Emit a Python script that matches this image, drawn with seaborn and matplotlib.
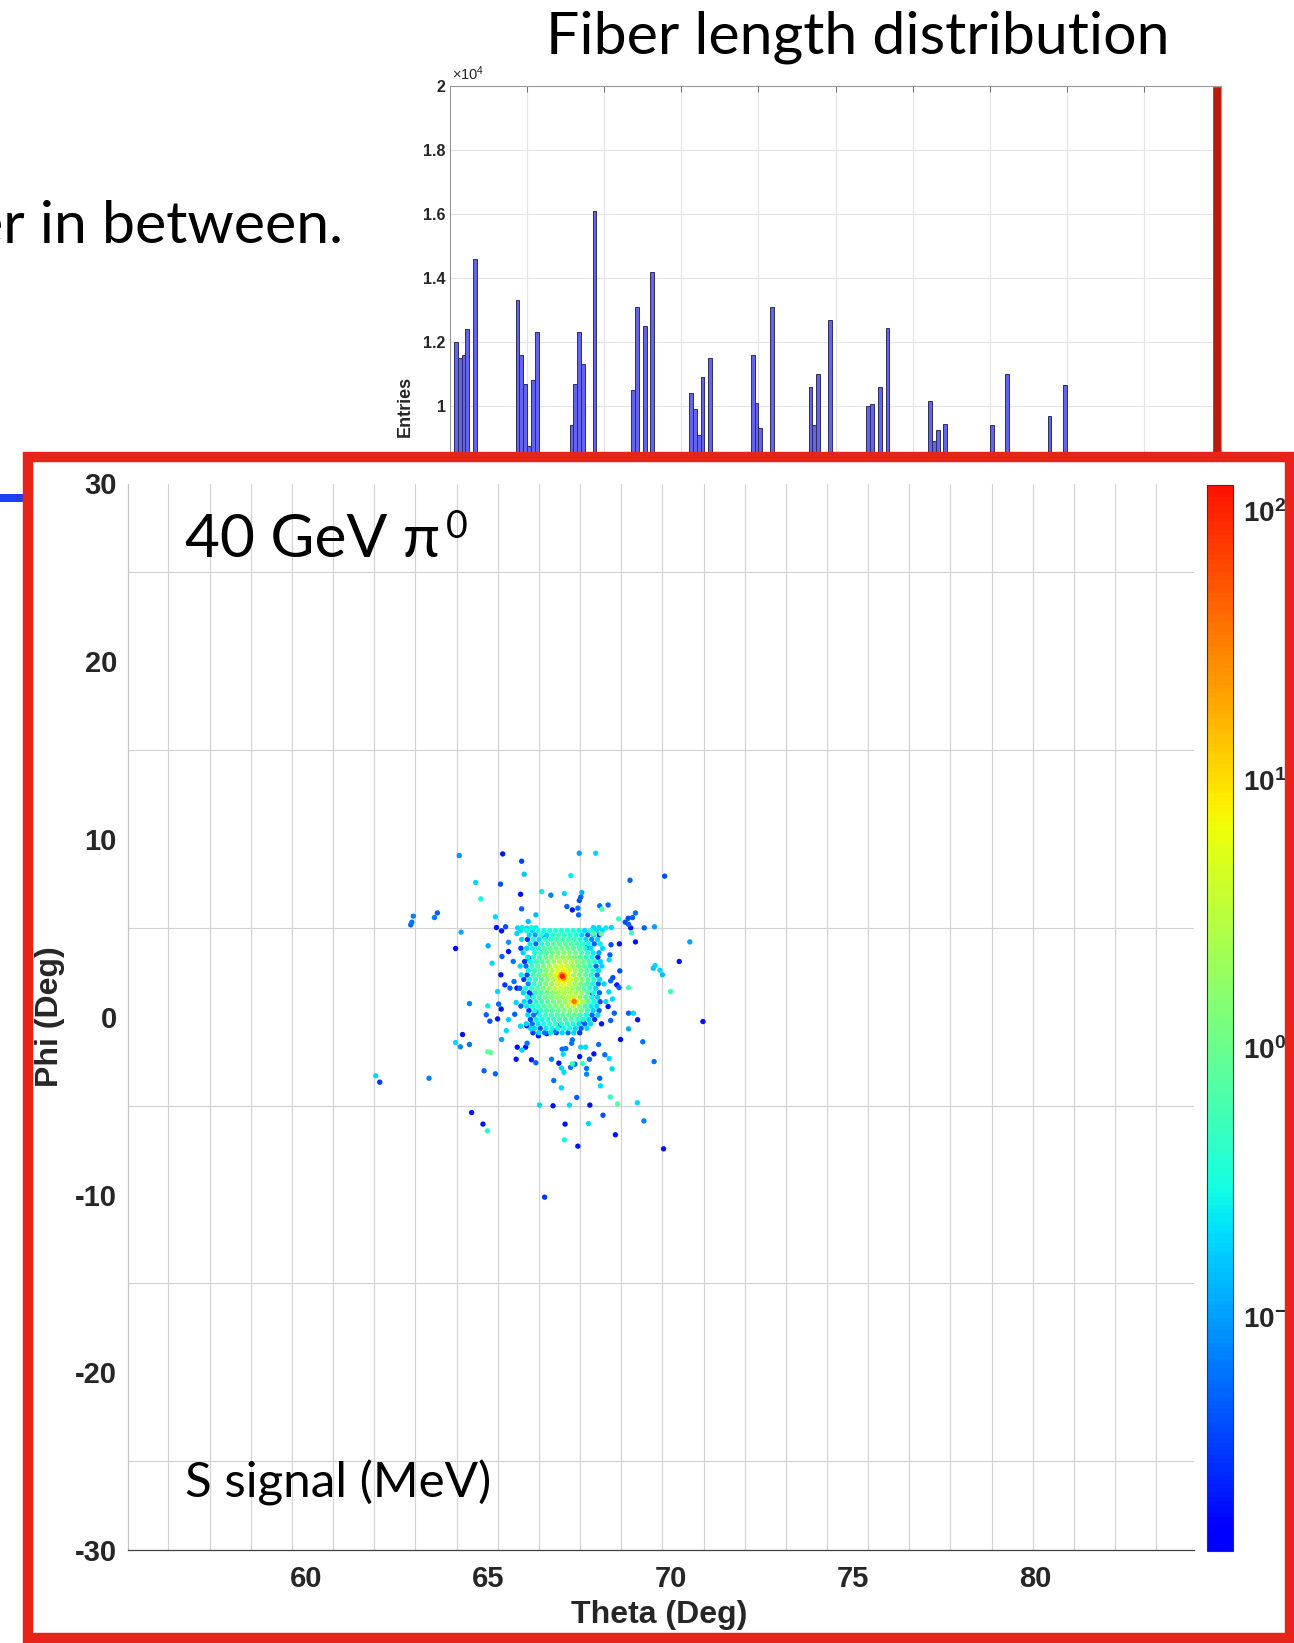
import numpy as np
import pandas as pd
import matplotlib
matplotlib.use("Agg")
import matplotlib.pyplot as plt
from matplotlib.colors import LogNorm, ListedColormap
from matplotlib.patches import Rectangle
from matplotlib.ticker import FixedLocator, FuncFormatter, LogLocator, NullFormatter
import seaborn as sns

# ---------------- fiber length histogram (entries per 1 cm bin) ----------------
fiber_bin_left = [1, 2, 3, 4, 6, 17, 18, 19, 20, 21, 22, 31, 32, 33, 34, 37,
                  47, 48, 50, 52, 62, 63, 64, 65, 67, 78, 79, 80, 83,
                  93, 94, 95, 98, 108, 109, 111, 113, 124, 125, 126, 128,
                  140, 144, 155, 159]
fiber_entries = [12000, 11500, 11600, 12400, 14600, 13300, 11600, 10700, 8750, 10800, 12300,
                 9400, 10700, 12300, 11300, 16100, 10500, 13100, 12500, 14200,
                 10400, 9900, 9100, 10900, 11500, 11600, 10100, 9300, 13100,
                 10600, 9400, 11000, 12700, 10000, 10050, 10600, 12450,
                 10150, 8900, 9250, 9450, 9400, 11000, 9700, 10650]
long_fiber_range = (198, 200)
long_fiber_entries = [19960]
hist_xticks = list(range(0, 201, 20))
hist_yticks = list(range(0, 20001, 2000))

# ---------------- S signal per fiber hit: 40 GeV pi0 shower ----------------
# isolated hits: (theta deg, phi deg, signal MeV)
isolated_hits = [
    (64.20, 9.07, 0.09), (65.39, 9.16, 0.02), (65.91, 8.75, 0.035), (65.98, 8.02, 0.16),
    (64.65, 7.55, 0.2), (64.79, 6.63, 0.3), (65.33, 7.46, 0.04), (65.88, 6.89, 0.02),
    (65.91, 6.07, 0.05), (62.94, 5.66, 0.07), (62.90, 5.32, 0.06), (62.87, 5.17, 0.05),
    (63.60, 5.84, 0.05), (63.52, 5.58, 0.07), (64.25, 4.76, 0.12), (64.10, 3.84, 0.018),
    (65.19, 5.62, 0.2), (65.22, 5.02, 0.02), (65.36, 4.83, 0.02), (65.47, 5.06, 0.04),
    (64.99, 3.99, 0.12), (65.10, 3.01, 0.2), (65.55, 4.19, 0.09), (65.78, 4.68, 0.2),
    (66.30, 5.73, 0.15), (66.09, 5.36, 0.15), (65.37, 3.39, 0.05), (65.55, 3.67, 0.02),
    (65.68, 3.11, 0.06), (65.34, 2.36, 0.02), (65.45, 1.79, 0.03), (65.25, 1.42, 0.2),
    (65.59, 1.61, 0.05), (65.78, 1.61, 0.02), (65.70, 1.98, 0.06), (64.48, 0.74, 0.08),
    (64.98, 0.61, 0.25), (65.28, 0.71, 0.05), (65.35, 0.43, 0.02), (64.94, 0.11, 0.05),
    (65.04, -0.25, 0.04), (65.25, -0.12, 0.02), (65.55, -0.16, 0.18), (65.76, 0.80, 0.2),
    (65.72, 0.14, 0.05), (65.80, 5.00, 0.2), (65.92, 5.02, 0.25), (66.05, 4.98, 0.2),
    (66.18, 5.02, 0.3), (66.30, 5.00, 0.25),
    (67.49, 9.20, 0.1), (67.94, 9.20, 0.2), (67.26, 7.94, 0.25), (68.88, 7.68, 0.05),
    (69.83, 7.91, 0.04), (66.46, 7.04, 0.25), (66.71, 6.84, 0.07), (67.08, 6.93, 0.2),
    (67.56, 6.99, 0.12), (67.53, 6.73, 0.05), (67.49, 6.54, 0.04), (67.15, 6.20, 0.05),
    (67.30, 6.01, 0.02), (67.45, 6.11, 0.06), (67.47, 5.73, 0.05), (68.05, 6.24, 0.06),
    (68.28, 6.29, 0.05), (68.11, 6.05, 0.6), (68.57, 5.51, 0.5), (68.83, 5.54, 0.04),
    (69.03, 5.84, 0.06), (68.95, 5.58, 0.05), (68.75, 5.32, 0.04), (68.84, 5.20, 0.05),
    (68.90, 5.00, 0.02), (68.92, 4.72, 0.5), (69.03, 4.21, 0.02), (69.27, 5.00, 0.05),
    (69.55, 5.06, 0.1), (70.52, 4.21, 0.1), (70.23, 3.11, 0.02), (69.57, 2.88, 0.2),
    (69.52, 2.73, 0.15), (69.70, 2.62, 0.2), (69.77, 2.36, 0.15), (69.99, 1.42, 0.5),
    (70.88, -0.27, 0.02), (68.59, 4.10, 0.02), (68.36, 4.05, 0.04), (68.33, 3.48, 0.05),
    (68.31, 3.20, 0.2), (68.60, 2.58, 0.04), (68.41, 2.20, 0.04), (68.35, 2.02, 0.05),
    (68.52, 1.79, 0.02), (68.58, 1.64, 0.05), (68.84, 1.64, 0.6), (68.30, 1.40, 0.2),
    (68.40, 1.00, 0.2), (68.28, 0.575, 0.02), (68.84, 0.20, 0.05), (68.97, 0.20, 0.2),
    (69.09, -0.17, 0.02), (68.45, 0.20, 0.05), (68.35, -0.21, 0.05), (68.10, -0.40, 0.02),
    (67.88, 5.02, 0.2), (68.03, 5.02, 0.2), (68.22, 5.00, 0.25), (68.37, 5.02, 0.2),
    (67.88, 4.70, 0.8), (68.09, 4.66, 0.9),
    (64.29, -1.00, 0.02), (64.10, -1.45, 0.2), (64.23, -1.69, 0.08), (64.48, -1.56, 0.06),
    (64.98, -1.97, 0.9), (65.06, -2.01, 0.9), (65.49, -0.78, 0.2), (65.36, -1.28, 0.1),
    (65.88, -0.53, 0.2), (66.05, -0.51, 0.02), (66.16, -0.68, 0.2), (66.37, -1.07, 0.02),
    (65.79, -1.71, 0.02), (66.02, -1.71, 0.02), (65.92, -1.88, 0.2), (66.06, -1.49, 0.06),
    (65.76, -2.39, 0.02), (66.18, -2.42, 0.02), (66.30, -2.59, 0.05), (64.88, -3.04, 0.05),
    (65.19, -3.21, 0.05), (61.91, -3.32, 0.2), (62.02, -3.68, 0.03), (63.37, -3.46, 0.07),
    (64.54, -5.39, 0.02), (64.85, -6.04, 0.02), (64.97, -6.42, 0.35), (66.40, -4.97, 0.2),
    (68.84, -0.68, 0.12), (68.62, -1.28, 0.02), (69.23, -1.41, 0.06), (69.54, -2.52, 0.06),
    (68.02, -1.56, 0.06), (68.19, -2.14, 0.06), (68.31, -2.35, 0.2), (68.39, -2.93, 0.2),
    (68.05, -3.46, 0.05), (68.07, -3.89, 0.2), (68.34, -4.51, 0.5), (68.54, -4.90, 0.8),
    (69.08, -4.84, 0.2), (68.14, -5.54, 0.04), (69.26, -5.86, 0.07), (68.48, -6.64, 0.02),
    (69.80, -7.43, 0.02), (67.74, -6.01, 0.2), (67.78, -4.97, 0.02), (67.42, -4.54, 0.05),
    (67.22, -4.97, 0.2), (66.77, -5.01, 0.02), (66.79, -3.59, 0.06), (67.00, -4.00, 0.2),
    (67.10, -6.04, 0.02), (67.08, -6.92, 0.3), (67.45, -7.28, 0.02), (66.54, -10.15, 0.03),
    (67.69, -2.91, 0.06), (67.69, -3.23, 0.07), (67.30, -2.65, 0.5), (67.25, -2.85, 0.06),
    (67.37, -2.67, 0.05), (67.58, -2.63, 0.5), (67.50, -2.24, 0.02), (67.77, -2.39, 0.05),
    (67.89, -2.09, 0.02), (67.05, -2.11, 0.2), (67.12, -1.79, 0.06), (67.02, -1.82, 0.06),
    (66.73, -2.39, 0.07), (66.93, -2.61, 0.02), (67.00, -2.89, 0.2), (67.07, -3.13, 0.2),
    (67.53, -1.71, 0.2), (67.66, -1.71, 0.2), (67.30, -1.30, 0.06), (67.28, -1.49, 0.06),
    (66.83, -0.79, 0.06), (66.96, -0.48, 0.06),
    (66.10, 3.30, 0.02), (66.55, 4.45, 0.04), (67.70, 3.90, 0.03), (66.20, 1.20, 0.03),
    (67.85, 1.25, 0.02), (66.35, 0.25, 0.04), (67.60, -0.30, 0.03), (66.60, -0.95, 0.02),
]

# dense shower core: one row of hits per phi value (0 = no hit)
core_theta_cols = [65.86, 66.02, 66.18, 66.34, 66.50, 66.66, 66.82, 66.98,
                   67.14, 67.30, 67.46, 67.62, 67.78, 67.94, 68.10]
core_row_phi = [4.85, 4.60, 4.35, 4.10, 3.85, 3.60, 3.35, 3.10, 2.85, 2.60, 2.35, 2.10,
                1.85, 1.60, 1.35, 1.10, 0.85, 0.60, 0.35, 0.10, -0.15, -0.40, -0.65, -0.90]
core_row_shift = [0.02, 0.10, 0.05, 0.12, 0.03, 0.09, 0.06, 0.13, 0.01, 0.08, 0.04, 0.11,
                  0.07, 0.00, 0.10, 0.05, 0.12, 0.03, 0.09, 0.06, 0.13, 0.02, 0.08, 0.04]
core_signal = [
    [0.2, 0.3, 0.2, 0.35, 0.3, 0.35, 0.4, 0.35, 0.4, 0.35, 0.3, 0.2, 0.3, 0.2, 0.2],
    [0, 0.2, 0.1, 0.35, 0.2, 0.4, 0.5, 0.45, 0.4, 0.35, 0.2, 0.05, 0.2, 0.03, 0],
    [0.2, 0.03, 0.3, 0.2, 0.45, 0.5, 0.6, 0.6, 0.6, 0.5, 0.35, 0.2, 0.08, 0.2, 0],
    [0, 0.25, 0.05, 0.35, 0.5, 0.7, 0.8, 0.8, 0.75, 0.6, 0.45, 0.3, 0.05, 0.25, 0],
    [0.03, 0.2, 0.3, 0.45, 0.6, 0.8, 1.0, 1.1, 1.0, 0.8, 0.6, 0.35, 0.2, 0, 0.2],
    [0.2, 0, 0.35, 0.5, 0.75, 1.0, 1.3, 1.4, 1.2, 1.0, 0.7, 0.45, 0.25, 0.1, 0],
    [0, 0.25, 0.4, 0.6, 0.9, 1.4, 2.0, 2.2, 1.9, 1.3, 0.8, 0.5, 0.3, 0.03, 0],
    [0.03, 0.3, 0.45, 0.7, 1.1, 1.8, 2.8, 3.2, 2.5, 1.6, 1.0, 0.6, 0.35, 0.2, 0],
    [0.2, 0.06, 0.45, 0.8, 1.3, 2.2, 4.0, 5.0, 3.5, 2.0, 1.1, 0.7, 0.35, 0.05, 0.2],
    [0, 0.3, 0.5, 0.8, 1.4, 2.6, 5.0, 8.0, 4.5, 2.2, 1.2, 0.7, 0.4, 0.2, 0],
    [0.25, 0.04, 0.5, 0.8, 1.5, 2.8, 6.0, 15.0, 5.0, 2.4, 1.3, 0.8, 0.4, 0.06, 0],
    [0.03, 0.3, 0.5, 0.85, 1.4, 2.7, 5.5, 9.0, 4.8, 2.3, 1.3, 0.75, 0.35, 0.2, 0],
    [0, 0.08, 0.45, 0.8, 1.3, 2.3, 4.2, 6.0, 3.8, 2.2, 1.3, 0.75, 0.35, 0.05, 0.2],
    [0.05, 0.3, 0.45, 0.7, 1.2, 1.9, 3.0, 3.5, 3.0, 2.2, 1.3, 0.7, 0.35, 0.2, 0],
    [0.2, 0.03, 0.4, 0.65, 1.0, 1.5, 2.2, 2.6, 2.6, 2.6, 1.6, 0.7, 0.3, 0.05, 0],
    [0, 0.3, 0.4, 0.6, 0.9, 1.3, 1.8, 2.2, 3.0, 4.0, 2.0, 0.7, 0.3, 0.2, 0],
    [0.2, 0.06, 0.35, 0.55, 0.8, 1.1, 1.5, 2.0, 3.5, 6.0, 2.5, 0.8, 0.3, 0.04, 0.2],
    [0.05, 0.25, 0.35, 0.5, 0.7, 0.9, 1.2, 1.6, 2.6, 3.5, 1.8, 0.6, 0.25, 0.2, 0],
    [0, 0.03, 0.3, 0.4, 0.6, 0.75, 0.9, 1.1, 1.5, 1.6, 1.1, 0.5, 0.2, 0.05, 0],
    [0, 0.2, 0.06, 0.35, 0.45, 0.6, 0.7, 0.8, 0.9, 0.9, 0.6, 0.35, 0.05, 0.2, 0],
    [0, 0.04, 0.25, 0.3, 0.4, 0.45, 0.55, 0.6, 0.6, 0.5, 0.35, 0.2, 0.03, 0, 0],
    [0, 0.2, 0.06, 0.25, 0.3, 0.4, 0.45, 0.45, 0.4, 0.35, 0.2, 0.05, 0.2, 0, 0],
    [0, 0, 0.2, 0.04, 0.25, 0.3, 0.35, 0.3, 0.35, 0.2, 0.05, 0.2, 0, 0, 0],
    [0, 0, 0.03, 0.2, 0.06, 0.25, 0.04, 0.2, 0.06, 0.2, 0.03, 0, 0, 0, 0],
]

# hottest fibers of the two photon showers
peak_hits = [
    (67.02, 2.28, 110.0), (67.00, 2.38, 25.0), (67.06, 2.18, 30.0), (66.96, 2.25, 15.0),
    (67.08, 2.32, 20.0), (66.98, 2.12, 10.0), (67.05, 2.45, 9.0), (66.92, 2.40, 7.0),
    (67.12, 2.10, 7.0), (66.94, 2.05, 6.0), (67.10, 2.55, 6.0),
    (67.35, 0.86, 35.0), (67.33, 0.92, 12.0), (67.38, 0.80, 10.0), (67.30, 0.82, 7.0),
]

# calorimeter tower boundaries (grid)
theta_tower_edges = [56.23, 57.36, 58.49, 59.61, 60.74, 61.87, 63.00, 64.13, 65.26,
                     66.38, 67.51, 68.64, 69.77, 70.90, 72.02, 73.15, 74.28, 75.41,
                     76.54, 77.66, 78.79, 79.92, 81.05, 82.18, 83.30]
phi_tower_edges = [-25, -15, -5, 5, 15, 25]

# ---------------- assemble hit table ----------------
rows = list(isolated_hits) + list(peak_hits)
for phi, shift, sig_row in zip(core_row_phi, core_row_shift, core_signal):
    for th, s in zip(core_theta_cols, sig_row):
        if s > 0:
            rows.append((th + shift, phi, s))
hits = pd.DataFrame(rows, columns=["theta", "phi", "signal"]).sort_values("signal")

hist_df = pd.DataFrame({"length": np.array(fiber_bin_left) + 0.5, "entries": fiber_entries})

# ---------------- style ----------------
sns.set_theme(style="white")
plt.rcParams.update({
    "font.family": ["Liberation Sans", "DejaVu Sans"],
    "axes.unicode_minus": False,
    "mathtext.fontset": "custom",
    "mathtext.rm": "Liberation Sans",
    "mathtext.bf": "Liberation Sans:bold",
    "mathtext.it": "Liberation Sans:italic",
})
slide_font = ["Lato", "Open Sans", "DejaVu Sans"]
axis_text = "#262626"

W, H = 1294, 1643
fig = plt.figure(figsize=(W / 100, H / 100), dpi=100)
fig.patch.set_facecolor("white")


def fx(px):
    return px / W


def fy(py):
    return 1 - py / H


# ---------------- fiber length histogram ----------------
axh = fig.add_axes([fx(450), fy(726), fx(1221) - fx(450), fy(86) - fy(726)])
sns.histplot(data=hist_df, x="length", weights="entries", binwidth=1, binrange=(0, 200),
             color="#6363ef", alpha=1, edgecolor="#2e2e5c", linewidth=0.7, ax=axh)
sns.histplot(x=[199.0], weights=long_fiber_entries, binwidth=2, binrange=long_fiber_range,
             color="#b91c0c", alpha=1, edgecolor="#b91c0c", linewidth=0.5, ax=axh)
axh.set_xlim(0, 200)
axh.set_ylim(0, 20000)
axh.set_xticks(hist_xticks)
axh.set_yticks(hist_yticks)
axh.yaxis.set_major_formatter(FuncFormatter(lambda v, p: f"{v / 1e4:g}"))
axh.grid(True, color="#e4e4e4", lw=0.8)
axh.set_axisbelow(True)
for sp in axh.spines.values():
    sp.set_color("#9a9a9a")
    sp.set_linewidth(0.8)
axh.tick_params(direction="in", length=4, width=0.7, color="#707070", top=True, right=True,
                labelsize=11.5, pad=3, labelcolor=axis_text)
for lbl in axh.get_yticklabels() + axh.get_xticklabels():
    lbl.set_fontweight("bold")
axh.set_xlabel("")
axh.set_ylabel("Entries", fontsize=13, fontweight="bold", color=axis_text)
axh.yaxis.set_label_coords(-0.047, 0.5)
axh.text(0.002, 1.004, r"$\times10^{4}$", transform=axh.transAxes, fontsize=10.5,
         ha="left", va="bottom", color=axis_text)

fig.text(fx(858), fy(54), "Fiber length distribution", ha="center", va="baseline",
         fontsize=42.5, family=slide_font, color="black")
fig.text(fx(343), fy(243), "er in between.", ha="right", va="baseline",
         fontsize=42.5, family=slide_font, color="black")

# ---------------- highlight frame ----------------
box = (fx(27.5), fy(1638), fx(1289.5) - fx(27.5), fy(457) - fy(1638))
fig.add_artist(Rectangle((fx(0), fy(502)), fx(24), fy(494) - fy(502),
                         transform=fig.transFigure, facecolor="#1f3ff2",
                         edgecolor="none", zorder=0.5))
fig.add_artist(Rectangle(box[:2], box[2], box[3], transform=fig.transFigure,
                         facecolor="white", edgecolor="none", zorder=1))
fig.add_artist(Rectangle(box[:2], box[2], box[3], transform=fig.transFigure,
                         facecolor="none", edgecolor="#e8231a", lw=7.5, zorder=5))

# ---------------- S signal scatter ----------------
norm = LogNorm(vmin=0.0135, vmax=125.5)
cmap = ListedColormap(plt.cm.jet(np.linspace(0.11, 0.89, 256)))

ax = fig.add_axes([fx(128), fy(1550), fx(1194) - fx(128), fy(483.5) - fy(1550)])
ax.set_zorder(2)
sns.scatterplot(data=hits, x="theta", y="phi", hue="signal", hue_norm=norm, palette=cmap,
                s=15, linewidth=0, legend=False, ax=ax)
ax.set_xlim(55.12, 84.34)
ax.set_ylim(-30, 30)
ax.set_xticks([60, 65, 70, 75, 80])
ax.set_yticks(list(range(-30, 31, 10)))
ax.xaxis.set_minor_locator(FixedLocator(theta_tower_edges))
ax.yaxis.set_minor_locator(FixedLocator(phi_tower_edges))
ax.grid(which="minor", color="#d2d2d2", lw=0.8)
ax.grid(which="major", visible=False)
ax.set_axisbelow(True)
ax.tick_params(which="minor", length=0)
ax.tick_params(which="major", direction="in", length=7, width=0.8, color="#404040",
               labelsize=21, labelcolor=axis_text)
ax.tick_params(axis="x", pad=11)
ax.tick_params(axis="y", pad=8)
for lbl in ax.get_xticklabels() + ax.get_yticklabels():
    lbl.set_fontweight("bold")
ax.spines["top"].set_visible(False)
ax.spines["right"].set_visible(False)
ax.spines["left"].set_color("#c4c4c4")
ax.spines["bottom"].set_color("#404040")
ax.spines["left"].set_linewidth(0.9)
ax.spines["bottom"].set_linewidth(0.9)
ax.set_xlabel("Theta (Deg)", fontsize=23, fontweight="bold", color=axis_text)
ax.set_ylabel("Phi (Deg)", fontsize=23, fontweight="bold", color=axis_text)
ax.xaxis.set_label_coords(0.4985, -0.047)
ax.yaxis.set_label_coords(-0.059, 0.5)

# colorbar
cax = fig.add_axes([fx(1207), fy(1550.8), fx(1233) - fx(1207), fy(484.6) - fy(1550.8)])
cax.set_zorder(2)
sm = plt.cm.ScalarMappable(norm=norm, cmap=cmap)
cb = fig.colorbar(sm, cax=cax)
cb.set_ticks([0.1, 1, 10, 100])
cb.set_ticklabels([r"$\mathbf{10^{-1}}$", r"$\mathbf{10^{0}}$", r"$\mathbf{10^{1}}$",
                   r"$\mathbf{10^{2}}$"])
cax.yaxis.set_minor_locator(LogLocator(base=10, subs=np.arange(2, 10)))
cax.yaxis.set_minor_formatter(NullFormatter())
cax.tick_params(which="major", direction="in", length=7, width=0.8, color="#333333",
                labelsize=20, pad=7, labelcolor=axis_text)
cax.tick_params(which="minor", direction="in", length=3.5, width=0.6, color="#333333")
cb.outline.set_edgecolor("#333333")
cb.outline.set_linewidth(0.8)

# slide annotations inside the frame
fig.text(fx(185), fy(557), "40 GeV \u03c0", ha="left", va="baseline", fontsize=43.5,
         family=slide_font, color="black", zorder=4)
fig.text(fx(446), fy(509), "0", ha="left", va="top", fontsize=27,
         family=slide_font, color="black", zorder=4)
fig.text(fx(185), fy(1497), "S signal (MeV)", ha="left", va="baseline", fontsize=35.6,
         family=slide_font, color="black", zorder=4)

fig.savefig("out.png", dpi=100)
